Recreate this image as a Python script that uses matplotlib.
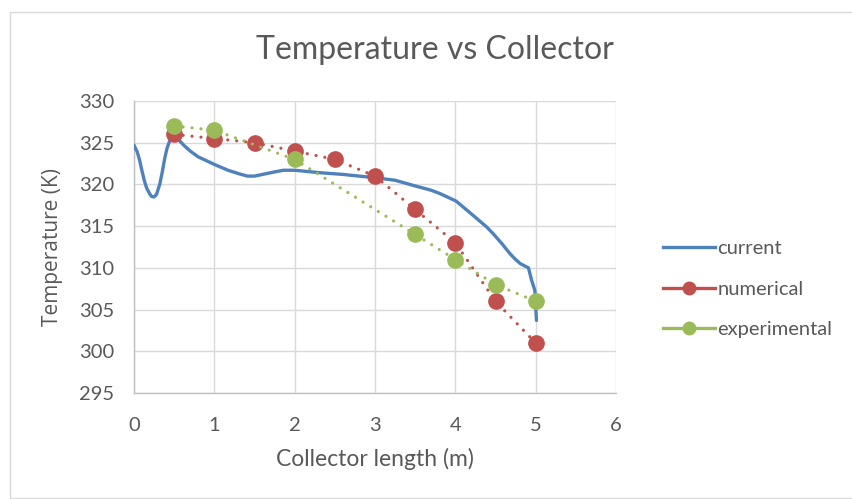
import matplotlib
matplotlib.use('Agg')
import matplotlib.pyplot as plt
from matplotlib.lines import Line2D
from matplotlib.patches import Rectangle

# current (smooth curve)
current_x = [0.0, 0.01, 0.04, 0.07, 0.1, 0.13, 0.16, 0.2, 0.22, 0.25, 0.28, 0.32, 0.35, 0.38,
             0.41, 0.44, 0.47, 0.51, 0.55, 0.63, 0.7, 0.8, 1.0, 1.17,
             1.3, 1.41, 1.5, 1.6, 1.75, 1.86, 2.0, 2.32, 2.6, 3.0, 3.25, 3.47, 3.7, 3.81,
             4.01, 4.22, 4.39, 4.47, 4.58, 4.68, 4.75, 4.81, 4.87, 4.91, 4.95, 4.99, 5.0, 5.01]
current_y = [324.7, 324.5, 323.9, 322.9, 321.6, 320.4, 319.5, 318.8, 318.55, 318.5, 318.8, 320.0,
             321.4, 323.0, 324.3, 325.1, 325.6, 325.7, 325.4, 324.6, 324.0, 323.3,
             322.4, 321.7, 321.3, 321.0, 321.0, 321.2, 321.5, 321.7, 321.7, 321.4, 321.2, 320.8,
             320.5, 319.9, 319.3, 318.9, 318.0, 316.3, 314.9, 314.1, 312.9, 311.7, 311.0, 310.5,
             310.2, 310.0, 308.5, 307.3, 305.5, 303.7]

num_x = [0.5, 1.0, 1.5, 2.0, 2.5, 3.0, 3.5, 4.0, 4.5, 5.0]
num_y = [326, 325.5, 325, 324, 323, 321, 317, 313, 306, 301]

exp_x = [0.5, 1.0, 2.0, 3.5, 4.0, 4.5, 5.0]
exp_y = [327, 326.5, 323, 314, 311, 308, 306]

blue = '#4F81BD'
red = '#C0504D'
green = '#9BBB59'
txt = '#595959'
plt.rcParams['font.family'] = ['Lato', 'DejaVu Sans']

fig = plt.figure(figsize=(8.52, 4.99), dpi=100)
fig.patches.append(Rectangle((10 / 852, 0.002), 0.99, 1 - 12 / 499 - 0.002, transform=fig.transFigure,
                             fill=False, edgecolor='#d9d9d9', linewidth=1))
ax = fig.add_axes([134 / 852, 1 - 393 / 499, (616 - 134) / 852, (393 - 101) / 499])

dots = (0, (0.01, 2.8))
ax.plot(current_x, current_y, color=blue, lw=2.4, solid_capstyle='round', solid_joinstyle='round', zorder=3)
ax.plot(num_x, num_y, color=red, lw=2.3, linestyle=dots, dash_capstyle='round',
        marker='o', markersize=11, zorder=4)
ax.plot(exp_x, exp_y, color=green, lw=2.3, linestyle=dots, dash_capstyle='round',
        marker='o', markersize=11, zorder=5)

ax.set_xlim(0, 6)
ax.set_ylim(295, 330)
ax.set_xticks(range(0, 7))
ax.set_yticks(range(295, 331, 5))
ax.grid(True, color='#d9d9d9', lw=1)
ax.set_axisbelow(True)
for s in ['top', 'right']:
    ax.spines[s].set_visible(False)
for s in ['left', 'bottom']:
    ax.spines[s].set_color('#bfbfbf')
    ax.spines[s].set_linewidth(1)
ax.tick_params(length=0, labelsize=14.5, colors=txt)
ax.tick_params(axis='x', pad=17)
ax.tick_params(axis='y', pad=14)

ax.set_xlabel('Collector length (m)', fontsize=16.5, color=txt, labelpad=10)
ax.set_ylabel('Temperature (K)', fontsize=15, color=txt, labelpad=12, family='Open Sans')
fig.suptitle('Temperature vs Collector', fontsize=23, color=txt, x=435 / 852, y=1 - 50 / 499, va='center')

handles = [Line2D([], [], color=blue, lw=2.4),
           Line2D([], [], color=red, lw=2.4, marker='o', markersize=9),
           Line2D([], [], color=green, lw=2.4, marker='o', markersize=9)]
leg = fig.legend(handles, ['current', 'numerical', 'experimental'], loc='center left',
                 bbox_to_anchor=(645 / 852, 1 - 289 / 499), frameon=False, fontsize=14.5,
                 handlelength=2.6, handletextpad=0.1, labelspacing=1.15, labelcolor=txt)

fig.savefig('out.png', dpi=100)
